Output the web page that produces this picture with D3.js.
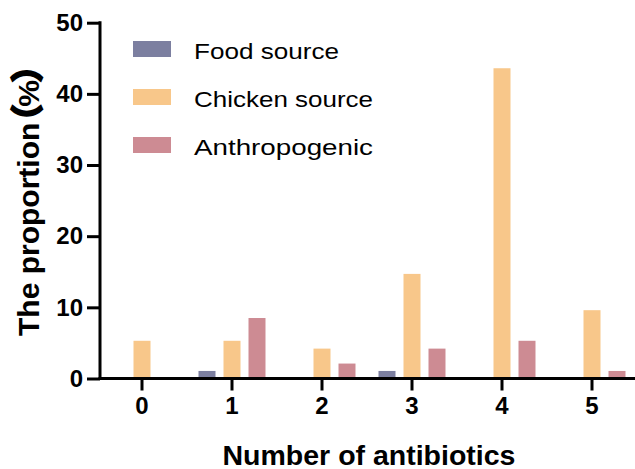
<!DOCTYPE html>
<html>
<head>
<meta charset="utf-8">
<script src="https://cdn.jsdelivr.net/npm/d3@7"></script>
<style>
  html, body { margin: 0; padding: 0; background: #fff; }
  svg { display: block; font-family: "Liberation Sans", Arial, sans-serif; }
</style>
</head>
<body>
<svg id="chart" width="635" height="469"></svg>
<script>
const categories = ["0", "1", "2", "3", "4", "5"];
const seriesNames = ["Food source", "Chicken source", "Anthropogenic"];
const foodValues = [0, 1.06, 0, 1.06, 0, 0];
const chickenValues = [5.3, 5.3, 4.2, 14.7, 43.6, 9.6];
const anthroValues = [0, 8.5, 2.1, 4.2, 5.3, 1.06];
const yTicks = [0, 10, 20, 30, 40, 50];
const colors = ["#7c7fa0", "#f8c78a", "#cd8b93"];
const legendWidths = [145, 179, 179];

const seriesValues = [foodValues, chickenValues, anthroValues];
const svg = d3.select("#chart");

const x = d3.scaleBand().domain(categories).range([97, 637]);
const xInner = d3.scaleBand().domain(seriesNames).range([-37.5, 37.5])
  .paddingInner(0.32).paddingOuter(0.16);
const y = d3.scaleLinear().domain([0, 50]).range([378.5, 22.7]);

// bars
seriesNames.forEach((name, si) => {
  svg.append("g").selectAll("rect")
    .data(categories.map((c, i) => ({ c, v: seriesValues[si][i] })))
    .join("rect")
    .attr("x", d => x(d.c) + x.bandwidth() / 2 + xInner(name))
    .attr("width", xInner.bandwidth())
    .attr("y", d => y(d.v))
    .attr("height", d => y(0) - y(d.v))
    .attr("fill", colors[si]);
});

// y axis
const yAxis = svg.append("g")
  .attr("transform", "translate(100,0)")
  .call(d3.axisLeft(y).tickValues(yTicks).tickSize(13).tickPadding(4).tickSizeOuter(0));
yAxis.select(".domain").attr("stroke", "#000").attr("stroke-width", 3)
  .attr("d", `M0,${y(50) - 1.5}V${y(0) + 1.5}`);
yAxis.selectAll(".tick line").attr("stroke", "#000").attr("stroke-width", 3);
yAxis.selectAll(".tick text").attr("font-size", 24).attr("font-weight", "bold")
  .attr("fill", "#000").attr("font-family", "'Liberation Sans', Arial, sans-serif");

// x axis
const xAxis = svg.append("g")
  .attr("transform", `translate(0,${y(0)})`)
  .call(d3.axisBottom(x).tickSize(12).tickPadding(6).tickSizeOuter(0));
xAxis.select(".domain").attr("stroke", "#000").attr("stroke-width", 3)
  .attr("d", "M98.5,0H635");
xAxis.selectAll(".tick line").attr("stroke", "#000").attr("stroke-width", 3);
xAxis.selectAll(".tick text").attr("font-size", 24).attr("font-weight", "bold")
  .attr("fill", "#000").attr("font-family", "'Liberation Sans', Arial, sans-serif");

// axis titles
svg.append("text")
  .attr("x", 369).attr("y", 465)
  .attr("text-anchor", "middle")
  .attr("font-size", 28.5).attr("font-weight", "bold").attr("fill", "#000")
  .text("Number of antibiotics");

const yTitle = svg.append("text")
  .attr("transform", "translate(39,336) rotate(-90)")
  .attr("text-anchor", "start")
  .attr("font-size", 30).attr("font-weight", "bold").attr("fill", "#000");
yTitle.append("tspan").text("The proportion");
yTitle.append("tspan")
  .attr("font-family", "'Noto Sans CJK SC', sans-serif").attr("font-weight", "bold")
  .attr("font-size", 32).attr("stroke", "#000").attr("stroke-width", 2.4)
  .attr("dx", -14).text("（");
yTitle.append("tspan").attr("dx", -2).text("%");
yTitle.append("tspan")
  .attr("font-family", "'Noto Sans CJK SC', sans-serif").attr("font-weight", "bold")
  .attr("font-size", 32).attr("stroke", "#000").attr("stroke-width", 2.4)
  .attr("dx", -2).text("）");

// legend
const legend = svg.append("g");
seriesNames.forEach((name, i) => {
  const g = legend.append("g").attr("transform", `translate(133,${41 + i * 48})`);
  g.append("rect").attr("width", 38).attr("height", 16).attr("fill", colors[i]);
  g.append("text").attr("x", 61).attr("y", 18)
    .attr("font-size", 21.5).attr("fill", "#000")
    .attr("textLength", legendWidths[i]).attr("lengthAdjust", "spacingAndGlyphs")
    .text(name);
});
</script>
</body>
</html>
